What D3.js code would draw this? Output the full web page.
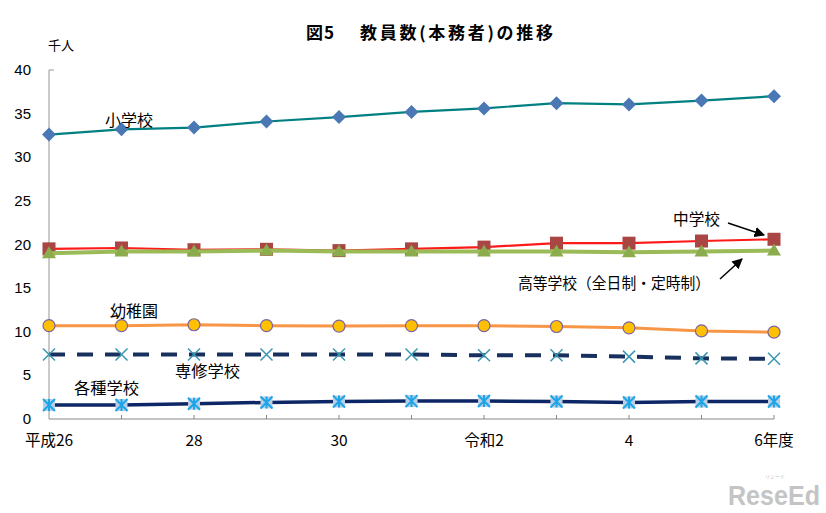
<!DOCTYPE html>
<html><head><meta charset="utf-8">
<script src="https://cdn.jsdelivr.net/npm/d3@7/dist/d3.min.js"></script>
<style>
body{margin:0;background:#fff;}
text{font-family:"Noto Sans CJK JP","Liberation Sans",sans-serif;}
.num{font-family:"Liberation Sans",Arial,sans-serif;}
</style></head>
<body>
<svg id="c" width="826" height="513"></svg>
<script>
const years = ["平成26","27","28","29","30","令和元","2","3","4","5","6"];
const xTickLabels = ["平成26","","28","","30","","令和2","","4","","6年度"];
const yTicks = [0,5,10,15,20,25,30,35,40];

const shogakko = [32.6,33.2,33.4,34.1,34.6,35.2,35.6,36.2,36.05,36.5,37.0];
const chugakko = [19.5,19.6,19.4,19.45,19.3,19.5,19.7,20.15,20.15,20.4,20.6];
const kotogakko = [19.0,19.2,19.2,19.3,19.2,19.2,19.2,19.2,19.1,19.2,19.3];
const yochien = [10.7,10.7,10.8,10.7,10.65,10.7,10.7,10.6,10.45,10.1,9.95];
const senshu = [7.4,7.4,7.4,7.4,7.4,7.4,7.3,7.3,7.15,6.95,6.9];
const kakushu = [1.6,1.6,1.75,1.9,2.0,2.05,2.07,2.0,1.9,2.0,2.0];

const svg = d3.select("#c");
const x = d3.scalePoint().domain(d3.range(years.length)).range([49,774]);
const y = d3.scaleLinear().domain([0,40]).range([419,70]);

// title
svg.append("text").attr("x",306).attr("y",39).attr("font-size",17).attr("font-weight","bold").attr("textLength",28).text("図5");
svg.append("text").attr("x",360).attr("y",39).attr("font-size",17).attr("font-weight","bold").attr("textLength",193).text("教員数(本務者)の推移");
svg.append("text").attr("x",48).attr("y",50).attr("font-size",13).text("千人");

// y axis
svg.append("line").attr("x1",49).attr("x2",49).attr("y1",y(40)).attr("y2",y(0)).attr("stroke","#b8b8b8").attr("stroke-width",1.5);
svg.append("line").attr("x1",49).attr("x2",54).attr("y1",y(40)).attr("y2",y(40)).attr("stroke","#999");
svg.selectAll(".yl").data(yTicks).join("text").attr("class","num")
  .attr("x",31).attr("y",d=>y(d)+5).attr("text-anchor","end").attr("font-size",15).text(d=>d);

// x axis
svg.append("line").attr("x1",49).attr("x2",774).attr("y1",y(0)).attr("y2",y(0)).attr("stroke","#888").attr("stroke-width",1);
svg.selectAll(".xt").data(d3.range(1,years.length)).join("line")
  .attr("x1",d=>x(d)).attr("x2",d=>x(d)).attr("y1",y(0)).attr("y2",y(0)-4).attr("stroke","#888");
svg.selectAll(".xl").data(xTickLabels.map((t,i)=>({t,i})).filter(d=>d.t)).join("text")
  .attr("x",d=>x(d.i)).attr("y",446).attr("text-anchor","middle").attr("font-size",15.5).text(d=>d.t);

const line = d3.line().x((d,i)=>x(i)).y(d=>y(d));

// 専修学校
svg.append("path").attr("d",line(senshu)).attr("fill","none").attr("stroke","#17305e").attr("stroke-width",4).attr("stroke-dasharray","16,12");
svg.selectAll(".m5").data(senshu).join("path")
  .attr("d",(d,i)=>{const cx=x(i),cy=y(d),r=6;return `M${cx-r},${cy-r}L${cx+r},${cy+r}M${cx-r},${cy+r}L${cx+r},${cy-r}`;})
  .attr("stroke","#3a97b0").attr("stroke-width",1.5);

// 各種学校
svg.append("path").attr("d",line(kakushu)).attr("fill","none").attr("stroke","#0d2666").attr("stroke-width",3.5);
svg.selectAll(".m6b").data(kakushu).join("rect")
  .attr("x",(d,i)=>x(i)-6).attr("y",d=>y(d)-6).attr("width",12).attr("height",12).attr("fill","#b9cde5");
svg.selectAll(".m6").data(kakushu).join("path")
  .attr("d",(d,i)=>{const cx=x(i),cy=y(d),r=6;return `M${cx-r},${cy-r}L${cx+r},${cy+r}M${cx-r},${cy+r}L${cx+r},${cy-r}M${cx},${cy-r}L${cx},${cy+r}`;})
  .attr("stroke","#1aa6e8").attr("stroke-width",2);

// 幼稚園
svg.append("path").attr("d",line(yochien)).attr("fill","none").attr("stroke","#f79646").attr("stroke-width",3);
svg.selectAll(".m4").data(yochien).join("circle")
  .attr("cx",(d,i)=>x(i)).attr("cy",d=>y(d)).attr("r",6).attr("fill","#ffc000").attr("stroke","#7b62a3").attr("stroke-width",1.2);

// 中学校
svg.append("path").attr("d",line(chugakko)).attr("fill","none").attr("stroke","#ff1a1a").attr("stroke-width",2.2);
svg.selectAll(".m2").data(chugakko).join("rect")
  .attr("x",(d,i)=>x(i)-6.5).attr("y",d=>y(d)-6.5).attr("width",13).attr("height",13).attr("fill","#a94542");

// 高等学校
svg.append("path").attr("d",line(kotogakko)).attr("fill","none").attr("stroke","#9bbb59").attr("stroke-width",4);
svg.selectAll(".m3").data(kotogakko).join("path")
  .attr("d",(d,i)=>{const cx=x(i),cy=y(d);return `M${cx},${cy-7}L${cx+7},${cy+5}L${cx-7},${cy+5}Z`;})
  .attr("fill","#8aac4c");

// 小学校
svg.append("path").attr("d",line(shogakko)).attr("fill","none").attr("stroke","#008080").attr("stroke-width",2.2);
svg.selectAll(".m1").data(shogakko).join("path")
  .attr("d",(d,i)=>{const cx=x(i),cy=y(d),r=7;return `M${cx},${cy-r}L${cx+r},${cy}L${cx},${cy+r}L${cx-r},${cy}Z`;})
  .attr("fill","#4a78b5");

// labels
const lab=(t,xx,yy,w)=>{const e=svg.append("text").attr("x",xx).attr("y",yy).attr("font-size",15.5).text(t); if(w) e.attr("textLength",w).attr("lengthAdjust","spacingAndGlyphs"); return e;};
lab("小学校",105,126,48);
lab("中学校",673,225,47);
lab("高等学校（全日制・定時制）",518,289,192);
lab("幼稚園",110,317,48);
lab("専修学校",175,377,65);
lab("各種学校",74,394,65);

// arrows
svg.append("defs").append("marker").attr("id","ah").attr("viewBox","0 0 10 10").attr("refX",9).attr("refY",5)
  .attr("markerWidth",7).attr("markerHeight",7).attr("orient","auto")
  .append("path").attr("d","M0,0L10,5L0,10Z").attr("fill","#000");
svg.append("line").attr("x1",728).attr("y1",223).attr("x2",764).attr("y2",235).attr("stroke","#000").attr("stroke-width",1.5).attr("marker-end","url(#ah)");
svg.append("line").attr("x1",720).attr("y1",279).attr("x2",742).attr("y2",259).attr("stroke","#000").attr("stroke-width",1.5).attr("marker-end","url(#ah)");

// watermark (single text element)
const wm = svg.append("text").attr("fill","#c4c4c4");
wm.append("tspan").attr("x",765).attr("y",478).attr("font-size",5).text("リシード");
wm.append("tspan").attr("x",728).attr("y",505).attr("font-size",27).attr("font-weight","bold")
  .attr("font-family","Liberation Sans,Arial,sans-serif").attr("textLength",92).attr("lengthAdjust","spacingAndGlyphs").text("ReseEd");
</script>
</body></html>
